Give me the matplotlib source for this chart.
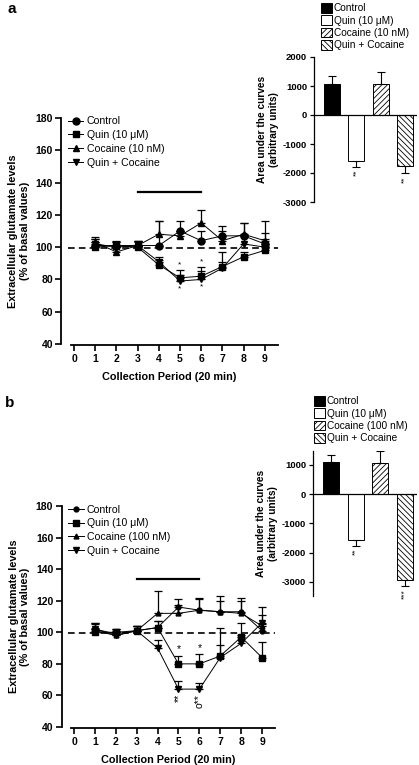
import numpy as np
import matplotlib.pyplot as plt
from matplotlib.lines import Line2D
from matplotlib.patches import Patch

plt.rcParams['font.family'] = ['Liberation Sans', 'DejaVu Sans']
plt.rcParams['hatch.linewidth'] = 0.6
plt.rcParams['axes.unicode_minus'] = False

periods = [1, 2, 3, 4, 5, 6, 7, 8, 9]
series_names_a = ['Control', 'Quin (10 \u03bcM)', 'Cocaine (10 nM)', 'Quin + Cocaine']
series_names_b = ['Control', 'Quin (10 \u03bcM)', 'Cocaine (100 nM)', 'Quin + Cocaine']

# panel a time course (% of basal)
control_a = [101, 101, 101, 101, 110, 104, 107, 107, 102]
control_a_err = [4, 3, 3, 15, 6, 6, 6, 8, 14]
quin_a = [100, 101, 100, 89, 81, 82, 88, 94, 98]
quin_a_err = [3, 2, 3, 3, 5, 6, 3, 3, 3]
cocaine_a = [103, 97, 101, 108, 107, 115, 104, 108, 104]
cocaine_a_err = [3, 3, 3, 8, 3, 8, 6, 7, 5]
quinc_a = [102, 100, 101, 91, 79, 80, 87, 102, 100]
quinc_a_err = [3, 3, 3, 3, 4, 5, 10, 5, 5]

# panel b time course
control_b = [102, 99, 101, 103, 116, 114, 113, 113, 101]
control_b_err = [4, 3, 3, 4, 5, 8, 10, 9, 4]
quin_b = [100, 100, 101, 103, 80, 80, 85, 97, 84]
quin_b_err = [3, 2, 3, 4, 5, 6, 18, 9, 10]
cocaine_b = [101, 98, 101, 112, 112, 114, 113, 112, 104]
cocaine_b_err = [5, 3, 3, 14, 5, 7, 7, 8, 12]
quinc_b = [102, 98, 101, 90, 64, 64, 84, 93, 106]
quinc_b_err = [3, 2, 3, 5, 5, 4, 8, 5, 5]

# area under the curves
auc_labels = ['Control', 'Quin', 'Cocaine', 'Quin + Cocaine']
auc_a = [1080, -1570, 1060, -1750]
auc_a_err = [270, 220, 420, 260]
auc_b = [1080, -1570, 1050, -2940]
auc_b_err = [270, 200, 430, 200]

markers = ['o', 's', '^', 'v']
fill_colors = ['black', 'white', 'white', 'white']
hatches = [None, None, '//////', '\\\\\\\\\\\\']

W, H = 419, 765
fig = plt.figure(figsize=(W / 100, H / 100), dpi=100)


def px_axes(x0, y0, x1, y1):
    return fig.add_axes([x0 / W, 1 - y1 / H, (x1 - x0) / W, (y1 - y0) / H])


def line_panel(ax, data, errs, names, msizes, xmax):
    for vals, err, mk, ms, nm in zip(data, errs, markers, msizes, names):
        ax.errorbar(periods, vals, yerr=[np.zeros(len(err)), err], marker=mk,
                    ms=ms, color='black', mfc='black', lw=0.7, elinewidth=0.9,
                    capsize=3, capthick=0.9, label=nm)
    ax.axhline(99.3, xmin=0.03, color='black', lw=1.2, ls=(0, (4, 2.5)))
    ax.plot([3, 6], [134, 134], color='black', lw=1.6)
    ax.set_xlim(-0.6, xmax)
    ax.set_ylim(40, 180)
    ax.set_yticks(range(40, 181, 20))
    ax.set_xticks(range(0, 10))
    for s in ['top', 'right']:
        ax.spines[s].set_visible(False)
    ax.spines['bottom'].set_bounds(-0.15, xmax)
    ax.spines['bottom'].set_position(('outward', 1))
    ax.spines['left'].set_linewidth(1.3)
    ax.spines['bottom'].set_linewidth(1.3)
    ax.tick_params(width=1.2, length=4, labelsize=7.5, pad=2)
    for t in ax.get_xticklabels() + ax.get_yticklabels():
        t.set_fontweight('bold')
    ax.set_xlabel('Collection Period (20 min)', fontsize=7.8, fontweight='bold', labelpad=6)
    ax.set_ylabel('Extracellular glutamate levels\n(% of basal values)', fontsize=7.8,
                  fontweight='bold', labelpad=4)
    handles = [Line2D([], [], color='black', lw=0.7, marker=m, ms=ms, mfc='black')
               for m, ms in zip(markers, msizes)]
    ax.legend(handles, names, loc='upper left', bbox_to_anchor=(0.0, 1.035),
              frameon=False, fontsize=7.6, handlelength=1.5, handletextpad=0.3,
              labelspacing=0.35, borderaxespad=0.2)


def bar_panel(ax, vals, errs, names, ylim, legend_anchor):
    x = np.arange(len(vals))
    for i in range(len(vals)):
        lower = 0 if vals[i] > 0 else errs[i]
        upper = errs[i] if vals[i] > 0 else 0
        ax.bar(x[i], vals[i], width=0.66, color=fill_colors[i], edgecolor='black',
               hatch=hatches[i], lw=0.7)
        ax.errorbar(x[i], vals[i], yerr=[[lower], [upper]], color='black',
                    elinewidth=0.8, capsize=3, capthick=0.8)
    ax.axhline(0, color='black', lw=0.9)
    ax.set_xlim(-0.74, 3.49)
    ax.set_ylim(*ylim)
    ax.set_yticks(range(-3000, int(ylim[1]) + 1, 1000))
    ax.set_xticks([])
    for s in ['top', 'right', 'bottom']:
        ax.spines[s].set_visible(False)
    ax.spines['left'].set_linewidth(0.9)
    ax.tick_params(width=0.9, length=3, labelsize=6.8, pad=2)
    for t in ax.get_yticklabels():
        t.set_fontweight('bold')
    ax.set_ylabel('Area under the curves\n(arbitrary units)', fontsize=7.3,
                  fontweight='bold', labelpad=3)
    handles = [Patch(facecolor=c, edgecolor='black', hatch=h, lw=0.7)
               for c, h in zip(fill_colors, hatches)]
    fig.legend(handles, names, loc='upper left', bbox_to_anchor=legend_anchor,
               frameon=False, fontsize=7.3, handlelength=1.1, handleheight=1.1,
               handletextpad=0.15, labelspacing=0.2, borderaxespad=0, borderpad=0)


# panel a
ax1 = px_axes(61.3, 118, 277.5, 344)
line_panel(ax1, [control_a, quin_a, cocaine_a, quinc_a],
           [control_a_err, quin_a_err, cocaine_a_err, quinc_a_err],
           series_names_a, [5, 5, 5, 5], 9.6)
for i in [4, 5]:
    ax1.text(periods[i], quin_a[i] + quin_a_err[i] + 1, '*', ha='center', va='bottom', fontsize=6)
    ax1.text(periods[i], quinc_a[i] - 2.5, '*', ha='center', va='top', fontsize=6)

ax2 = px_axes(314, 57, 417, 202)
bar_panel(ax2, auc_a, auc_a_err, series_names_a, (-3000, 2000), (321 / W, 1 - 3 / H))
ax2.text(1, auc_a[1] - auc_a_err[1] - 100, '**', rotation=90, ha='center', va='top', fontsize=6)
ax2.text(3, auc_a[3] - auc_a_err[3] - 100, '**', rotation=90, ha='center', va='top', fontsize=6)

# panel b
ax3 = px_axes(61.5, 506, 274.6, 727)
line_panel(ax3, [control_b, quin_b, cocaine_b, quinc_b],
           [control_b_err, quin_b_err, cocaine_b_err, quinc_b_err],
           series_names_b, [3.5, 5, 3.5, 4], 9.6)
for i in [4, 5]:
    ax3.text(periods[i], quin_b[i] + quin_b_err[i] + 1, '*', ha='center', va='bottom', fontsize=7.5)
ax3.text(periods[4], quinc_b[4] - 3, '**', rotation=90, ha='center', va='top', fontsize=7.5)
ax3.text(periods[5], quinc_b[5] - 3, 'o**', rotation=90, ha='center', va='top', fontsize=7.5)

ax4 = px_axes(313, 451, 417, 596)
bar_panel(ax4, auc_b, auc_b_err, series_names_b, (-3480, 1470), (314 / W, 1 - 396 / H))
ax4.text(1, auc_b[1] - auc_b_err[1] - 100, '**', rotation=90, ha='center', va='top', fontsize=6)
ax4.text(3, auc_b[3] - auc_b_err[3] - 100, '***', rotation=90, ha='center', va='top', fontsize=6)

fig.text(7 / W, 1 - 2 / H, 'a', fontsize=11, fontweight='bold', va='top')
fig.text(5 / W, 1 - 396 / H, 'b', fontsize=11, fontweight='bold', va='top')

fig.savefig('out.png', dpi=100)
